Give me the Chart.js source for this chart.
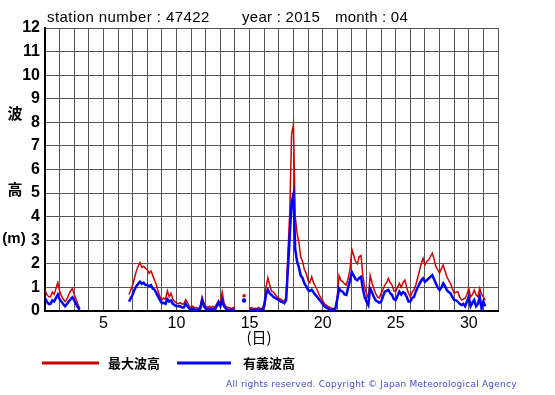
<!DOCTYPE html>
<html>
<head>
<meta charset="utf-8">
<script src="https://cdn.jsdelivr.net/npm/chart.js@4/dist/chart.umd.min.js"></script>
<style>
  html, body { margin: 0; padding: 0; background: #fff; }
  #wrap { width: 555px; height: 395px; position: relative; }
</style>
</head>
<body>
<div id="wrap"><canvas id="wave" width="555" height="395"></canvas></div>
<script>
// 3-hourly samples, day 1 00h .. day 31 21h (8 per day), null = missing
const maxWave = [
  0.9, 0.7, 0.6, 0.6, 0.8, 0.7, 0.95, 1.2,
  0.85, 0.65, 0.5, 0.4, 0.5, 0.7, 0.85, 0.95,
  0.7, 0.5, 0.3, 0.12, null, null, null, null,
  null, null, null, null, null, null, null, null,
  null, null, null, null, null, null, null, null,
  null, null, null, null, null, null, 0.7, 0.9,
  1.1, 1.4, 1.7, 1.9, 2.05, 1.85, 1.9, 1.8,
  1.75, 1.6, 1.7, 1.5, 1.3, 1.1, 0.8, 0.6,
  0.47, 0.55, 0.5, 0.85, 0.6, 0.75, 0.5, 0.4,
  0.35, 0.3, 0.35, 0.3, 0.3, 0.47, 0.35, 0.2,
  0.15, 0.2, 0.12, 0.15, 0.1, 0.2, 0.6, 0.35,
  0.2, 0.15, 0.2, 0.15, 0.2, 0.15, 0.3, 0.45,
  0.3, 0.8, 0.35, 0.2, 0.15, 0.15, 0.1, 0.15,
  0.1, null, null, null, null, 0.65, null, null,
  0.1, 0.15, 0.1, 0.12, 0.1, 0.15, 0.1, 0.12,
  0.3, 1.0, 1.4, 1.1, 0.85, 0.8, 0.7, 0.6,
  0.55, 0.5, 0.45, 0.4, 0.6, 2.5, 4.2, 7.5,
  7.9, 4.0, 3.3, 2.9, 2.3, 2.1, 1.75, 1.6,
  1.3, 1.2, 1.45, 1.2, 1.05, 0.9, 0.7, 0.55,
  0.45, 0.3, 0.25, 0.2, 0.15, 0.12, 0.1, 0.15,
  0.6, 1.5, 1.3, 1.25, 1.15, 1.1, 1.4, 1.75,
  2.6, 2.35, 2.1, 2.0, 2.3, 2.35, 1.5, 1.0,
  0.75, 0.54, 1.5, 1.2, 0.95, 0.75, 0.6, 0.55,
  0.75, 0.9, 1.1, 1.2, 1.38, 1.2, 1.1, 0.85,
  0.82, 1.0, 1.17, 1.0, 1.2, 1.31, 1.0, 0.75,
  0.6, 0.8, 0.9, 1.1, 1.4, 1.7, 2.0, 2.23,
  1.95, 2.1, 2.16, 2.3, 2.45, 2.2, 1.88, 1.75,
  1.6, 1.8, 1.95, 1.7, 1.45, 1.3, 1.17, 0.95,
  0.75, 0.8, 0.82, 0.6, 0.47, 0.5, 0.54, 0.7,
  0.96, 0.6, 0.7, 0.89, 0.68, 0.6, 0.96, 0.7,
  0.6, 0.45, null, null, null, null, null, null
];
const sigWave = [
  0.55, 0.4, 0.3, 0.3, 0.45, 0.4, 0.55, 0.7,
  0.5, 0.4, 0.3, 0.2, 0.3, 0.4, 0.5, 0.58,
  0.45, 0.3, 0.15, 0.05, null, null, null, null,
  null, null, null, null, null, null, null, null,
  null, null, null, null, null, null, null, null,
  null, null, null, null, null, null, 0.4, 0.55,
  0.7, 0.9, 1.05, 1.15, 1.24, 1.15, 1.2, 1.1,
  1.1, 1.05, 1.1, 0.95, 0.9, 0.75, 0.6, 0.45,
  0.33, 0.35, 0.3, 0.5, 0.4, 0.45, 0.3, 0.25,
  0.2, 0.2, 0.2, 0.15, 0.15, 0.3, 0.2, 0.1,
  0.05, 0.1, 0.05, 0.05, 0.05, 0.1, 0.45, 0.2,
  0.1, 0.05, 0.1, 0.05, 0.1, 0.05, 0.2, 0.35,
  0.2, 0.45, 0.2, 0.1, 0.05, 0.05, 0.05, 0.05,
  0.05, null, null, null, null, 0.45, null, null,
  0.05, 0.05, 0.03, 0.05, 0.05, 0.05, 0.03, 0.05,
  0.2, 0.7, 0.9, 0.75, 0.68, 0.6, 0.55, 0.5,
  0.47, 0.4, 0.38, 0.33, 0.45, 1.8, 3.2, 4.6,
  4.95, 2.6, 2.1, 1.85, 1.5, 1.4, 1.17, 1.05,
  0.9, 0.85, 0.9, 0.8, 0.68, 0.6, 0.5, 0.4,
  0.3, 0.2, 0.15, 0.1, 0.05, 0.05, 0.05, 0.1,
  0.5, 0.95, 0.85, 0.82, 0.7, 0.68, 1.0, 1.3,
  1.65, 1.5, 1.35, 1.3, 1.4, 1.45, 0.95, 0.6,
  0.4, 0.25, 0.95, 0.8, 0.6, 0.45, 0.4, 0.35,
  0.4, 0.6, 0.82, 0.85, 0.89, 0.75, 0.68, 0.5,
  0.47, 0.65, 0.82, 0.7, 0.8, 0.75, 0.6, 0.4,
  0.4, 0.55, 0.6, 0.82, 1.0, 1.15, 1.3, 1.38,
  1.24, 1.3, 1.38, 1.45, 1.52, 1.35, 1.17, 1.0,
  0.89, 1.0, 1.17, 1.05, 0.89, 0.8, 0.75, 0.6,
  0.47, 0.45, 0.4, 0.3, 0.25, 0.3, 0.2, 0.4,
  0.6, 0.2, 0.35, 0.47, 0.2, 0.3, 0.6, 0.1,
  0.4, 0.2, null, null, null, null, null, null
];
const dayTicks = [5, 10, 15, 20, 25, 30];
const stepsPerDay = 8;

const toPoints = arr => arr.map((v, i) => ({ x: 1 + i / stepsPerDay, y: v }));

// isolated samples get a tiny dot so they still show
function loneDot(ctx) {
  const d = ctx.dataset.data, i = ctx.dataIndex;
  if (d[i].y == null) return 0;
  const prev = d[i - 1], next = d[i + 1];
  return (!prev || prev.y == null) && (!next || next.y == null) ? 1 : 0;
}

// stretch a line of text to a given width using letter spacing
function fitText(c, txt, x, y, w) {
  if ("letterSpacing" in c) {
    c.letterSpacing = "0px";
    const sp = (w - c.measureText(txt).width) / txt.length;
    c.letterSpacing = sp.toFixed(2) + "px";
  }
  c.fillText(txt, x, y);
  if ("letterSpacing" in c) c.letterSpacing = "0px";
}

const extras = {
  id: "extras",
  afterDraw(chart) {
    const c = chart.ctx;
    c.save();
    c.fillStyle = "#000";
    c.textBaseline = "alphabetic";
    c.font = "15px 'Liberation Sans', Arial, sans-serif";
    fitText(c, "station number : 47422", 47, 22, 163);
    fitText(c, "year : 2015", 242, 22, 78);
    fitText(c, "month : 04", 335, 22, 73);

    c.textAlign = "center";
    c.textBaseline = "middle";
    c.font = "bold 15px 'Noto Sans CJK JP', sans-serif";
    c.fillText("波", 15, 113);
    c.fillText("高", 15, 189);
    c.font = "bold 15px 'Liberation Sans', Arial, sans-serif";
    c.fillText("(m)", 14, 239);
    c.font = "15px 'Noto Sans CJK JP', sans-serif";
    c.fillText("(日)", 259, 337);

    // legend
    c.lineWidth = 3;
    c.strokeStyle = "#cc0000";
    c.beginPath(); c.moveTo(42, 363); c.lineTo(99, 363); c.stroke();
    c.strokeStyle = "#0000ff";
    c.beginPath(); c.moveTo(177, 363); c.lineTo(231, 363); c.stroke();
    c.textAlign = "left";
    c.font = "bold 13px 'Noto Sans CJK JP', sans-serif";
    c.fillText("最大波高", 108, 363);
    c.fillText("有義波高", 243, 363);

    c.fillStyle = "#4b4bd6";
    c.font = "9px 'DejaVu Sans', sans-serif";
    fitText(c, "All rights reserved. Copyright © Japan Meteorological Agency", 226, 385, 291);
    c.restore();
  }
};

new Chart(document.getElementById("wave"), {
  type: "line",
  data: {
    datasets: [
      {
        label: "有義波高",
        data: toPoints(sigWave),
        borderColor: "#0000ff",
        backgroundColor: "#0000ff",
        borderWidth: 2.5,
        order: 0
      },
      {
        label: "最大波高",
        data: toPoints(maxWave),
        borderColor: "#cc0000",
        backgroundColor: "#cc0000",
        borderWidth: 1.5,
        order: 1
      }
    ]
  },
  options: {
    responsive: false,
    animation: false,
    devicePixelRatio: 1,
    spanGaps: false,
    elements: {
      line: { tension: 0 },
      point: { radius: loneDot, hoverRadius: 0 }
    },
    layout: { padding: { top: 28, right: 57, left: 0, bottom: 0 } },
    plugins: { legend: { display: false }, tooltip: { enabled: false } },
    scales: {
      x: {
        type: "linear",
        min: 1,
        max: 32,
        afterFit: s => { s.height = 84; },
        afterBuildTicks: s => {
          s.ticks = [];
          for (let d = 1; d <= 32; d++) s.ticks.push({ value: d });
        },
        grid: { color: "#555", lineWidth: 1, drawTicks: false },
        border: { color: "#000", width: 2 },
        ticks: {
          color: "#000",
          padding: 3,
          maxRotation: 0,
          autoSkip: false,
          font: { size: 16, family: "'Liberation Sans', Arial, sans-serif" },
          callback: v => dayTicks.includes(v) ? String(v) : ""
        }
      },
      y: {
        min: 0,
        max: 12,
        afterFit: s => { s.width = 45; },
        grid: { color: "#555", lineWidth: 1, drawTicks: false },
        border: { color: "#000", width: 2 },
        ticks: {
          stepSize: 1,
          color: "#000",
          padding: 5,
          font: { size: 16, weight: "bold", family: "'Liberation Sans', Arial, sans-serif" }
        }
      }
    }
  },
  plugins: [extras]
});
</script>
</body>
</html>
